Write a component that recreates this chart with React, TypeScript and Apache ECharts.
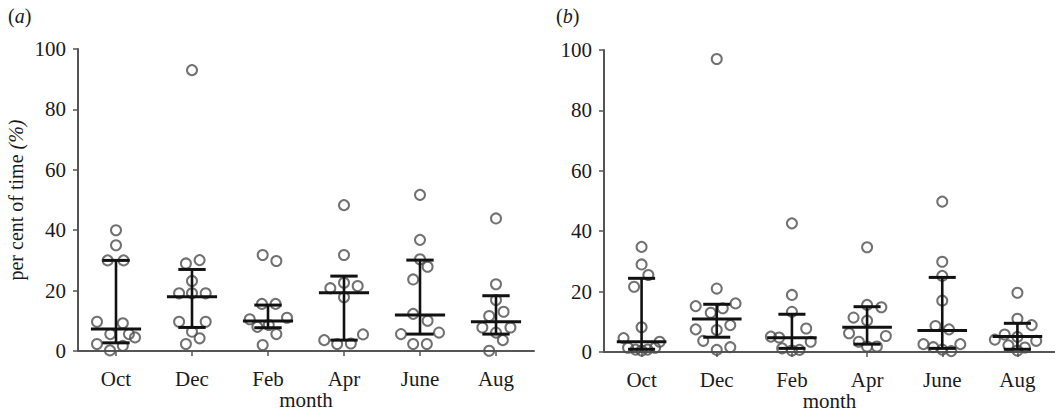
import React, { useEffect, useRef } from "react";
import * as echarts from "echarts";

const months = ["Oct", "Dec", "Feb", "Apr", "June", "Aug"];

// Panel (a) values (per cent of time) and horizontal jitter (in category units)
const aOct = [40, 35, 30, 30, 9.7, 9.2, 5.6, 5.6, 4.5, 2.3, 1.7, 0.2];
const aOctX = [0, 0, -0.11, 0.1, -0.25, 0.09, -0.075, 0.17, 0.25, -0.25, 0.09, -0.08];
const aDec = [93, 30.1, 29.0, 23.2, 19.1, 19.1, 19.1, 9.7, 9.7, 6.4, 4.2, 2.3];
const aDecX = [0, 0.1, -0.08, 0, -0.17, 0, 0.18, -0.17, 0.18, 0, 0.1, -0.08];
const aFeb = [31.8, 29.8, 15.6, 15.6, 11.0, 10.5, 8.6, 8.0, 5.6, 2.0];
const aFebX = [-0.07, 0.11, -0.08, 0.1, 0.25, -0.24, 0.01, -0.14, 0.11, -0.07];
const aApr = [48.3, 31.8, 22.6, 21.5, 20.8, 17.8, 5.5, 3.6, 2.5, 2.3];
const aAprX = [0, 0, 0, 0.18, -0.18, 0, 0.25, -0.26, 0.09, -0.09];
const aJune = [51.7, 36.8, 30.4, 27.9, 23.7, 12.3, 10.0, 6.1, 5.6, 2.3, 2.3];
const aJuneX = [0, 0, 0, 0.1, -0.09, -0.09, 0.1, 0.25, -0.25, -0.09, 0.09];
const aAug = [43.9, 22.1, 16.9, 13.0, 11.6, 7.8, 7.8, 6.1, 3.6, 0.1];
const aAugX = [0, 0, 0, 0.1, -0.09, -0.18, 0.19, 0, 0.09, -0.09];

// Panel (b)
const bOct = [34.8, 29.0, 25.5, 21.6, 8.2, 4.6, 3.4, 1.4, 0.8, 0.5, 0.8, 1.4];
const bOctX = [0, 0, 0.09, -0.1, 0, -0.24, 0.24, -0.18, -0.08, 0, 0.08, 0.18];
const bDec = [97, 21, 16.1, 15.2, 14.5, 13.0, 8.9, 7.5, 7.3, 3.7, 1.6, 0.7];
const bDecX = [0, 0, 0.25, -0.28, 0.08, -0.08, 0.18, -0.28, 0, -0.18, 0.18, 0];
const bFeb = [42.6, 18.9, 13.3, 7.8, 5.1, 4.8, 3.4, 1.2, 0.7, 0.5];
const bFebX = [0, 0, 0, 0.19, -0.28, -0.17, 0.25, -0.13, 0.1, 0];
const bApr = [34.7, 15.6, 14.8, 11.4, 10.4, 6.2, 5.3, 3.4, 1.8, 1.8];
const bAprX = [0, 0, 0.19, -0.18, 0, -0.24, 0.25, -0.11, 0, 0.13];
const bJune = [49.8, 29.9, 25.2, 17.0, 8.6, 7.5, 2.6, 2.6, 1.6, 0.8, 0.3];
const bJuneX = [0, 0, 0, 0, -0.09, 0.09, -0.25, 0.24, -0.12, 0, 0.12];
const bAug = [19.6, 11.0, 8.9, 5.8, 5.0, 4.1, 3.7, 2.2, 1.5, 0.5];
const bAugX = [0, 0, 0.19, -0.17, 0, -0.3, 0.25, -0.12, 0.1, 0];

// Median and interquartile range
const aMedian = [7.3, 18.0, 9.9, 19.3, 11.9, 9.7];
const aQ1 = [2.7, 7.8, 7.7, 3.6, 5.6, 5.6];
const aQ3 = [30, 27, 15.2, 24.8, 30.1, 18.3];
const bMedian = [3.4, 10.9, 4.7, 8.2, 7.1, 5.1];
const bQ1 = [0.9, 4.9, 1.2, 2.6, 1.2, 0.9];
const bQ3 = [24.4, 15.8, 12.5, 15.0, 24.7, 9.5];

const FONT = "'Liberation Serif', 'Times New Roman', serif";
const AXIS_COLOR = "#555";
const TEXT_COLOR = "#1a1a1a";

function buildPoints(vals: number[][], jit: number[][]) {
  const out: number[][] = [];
  vals.forEach((arr, i) => {
    arr.forEach((v, k) => out.push([i + jit[i][k], v]));
  });
  return out;
}

function statData(med: number[], q1: number[], q3: number[]) {
  return med.map((m, i) => [i, m, q1[i], q3[i]]);
}

const renderBar = (params: any, api: any) => {
  const i = api.value(0);
  const pm = api.coord([i, api.value(1)]);
  const plo = api.coord([i, api.value(2)]);
  const phi = api.coord([i, api.value(3)]);
  const bw = api.size([1, 0])[0];
  const st = { stroke: "#111", lineWidth: 2.6 };
  const capW = 0.18 * bw;
  const medW = 0.33 * bw;
  return {
    type: "group",
    children: [
      { type: "line", shape: { x1: pm[0], y1: plo[1], x2: pm[0], y2: phi[1] }, style: st },
      { type: "line", shape: { x1: pm[0] - medW, y1: pm[1], x2: pm[0] + medW, y2: pm[1] }, style: { stroke: "#111", lineWidth: 3 } },
      { type: "line", shape: { x1: pm[0] - capW, y1: plo[1], x2: pm[0] + capW, y2: plo[1] }, style: { stroke: "#111", lineWidth: 3 } },
      { type: "line", shape: { x1: pm[0] - capW, y1: phi[1], x2: pm[0] + capW, y2: phi[1] }, style: { stroke: "#111", lineWidth: 3 } },
    ],
  };
};

function catAxis(gridIndex: number) {
  return {
    type: "category",
    gridIndex,
    data: months,
    boundaryGap: true,
    name: "month",
    nameLocation: "middle",
    nameGap: 38,
    nameMoveOverlap: false,
    nameTextStyle: { fontFamily: FONT, fontSize: 21, color: TEXT_COLOR, lineHeight: 21 },
    axisLine: { show: true, onZero: false, lineStyle: { color: AXIS_COLOR, width: 2 } },
    axisTick: { show: true, alignWithLabel: true, length: 5, lineStyle: { color: AXIS_COLOR, width: 1.5 } },
    axisLabel: { fontFamily: FONT, fontSize: 21, color: TEXT_COLOR, margin: 17 },
    splitLine: { show: false },
  };
}

function valXAxis(gridIndex: number) {
  return {
    type: "value",
    gridIndex,
    min: -0.5,
    max: 5.5,
    show: false,
    axisLine: { show: false, onZero: false },
    splitLine: { show: false },
  };
}

function yAxis(gridIndex: number, withName: boolean) {
  return {
    type: "value",
    gridIndex,
    min: 0,
    max: 100,
    interval: 20,
    name: withName ? "{n|per cent of time }{i|(%)}" : "",
    nameLocation: "middle",
    nameGap: 52,
    nameMoveOverlap: false,
    nameTextStyle: {
      fontFamily: FONT,
      fontSize: 20,
      color: TEXT_COLOR,
      rich: {
        n: { fontFamily: FONT, fontSize: 20, color: TEXT_COLOR },
        i: { fontFamily: FONT, fontSize: 20, color: TEXT_COLOR, fontStyle: "italic" },
      },
    },
    axisLine: { show: true, onZero: false, lineStyle: { color: AXIS_COLOR, width: 2 } },
    axisTick: { show: true, length: 5, lineStyle: { color: AXIS_COLOR, width: 1.5 } },
    axisLabel: { fontFamily: FONT, fontSize: 21, color: TEXT_COLOR, margin: 12 },
    splitLine: { show: false },
  };
}

const scatterStyle = {
  symbol: "circle",
  symbolSize: 10,
  itemStyle: { color: "rgba(255,255,255,0)", borderColor: "#4d4d4d", borderWidth: 2 },
};

export default function App() {
  const ref = useRef<HTMLDivElement>(null);
  useEffect(() => {
    if (!ref.current) return;
    const chart = echarts.init(ref.current, undefined, { renderer: "svg" });
    const aPts = buildPoints([aOct, aDec, aFeb, aApr, aJune, aAug], [aOctX, aDecX, aFebX, aAprX, aJuneX, aAugX]);
    const bPts = buildPoints([bOct, bDec, bFeb, bApr, bJune, bAug], [bOctX, bDecX, bFebX, bAprX, bJuneX, bAugX]);
    const panelLabel = (x: number, letter: string) => ({
      type: "text",
      left: x,
      top: 6,
      style: {
        text: "{p|(}{i|" + letter + "}{p|)}",
        rich: {
          p: { fontFamily: FONT, fontSize: 20, fill: TEXT_COLOR },
          i: { fontFamily: FONT, fontSize: 20, fill: TEXT_COLOR, fontStyle: "italic" },
        },
      },
    });
    chart.setOption({
      animation: false,
      backgroundColor: "#fff",
      grid: [
        { left: 78, top: 49, width: 456, height: 302, containLabel: false, outerBoundsMode: "none" },
        { left: 604, top: 50, width: 451, height: 302, containLabel: false, outerBoundsMode: "none" },
      ],
      xAxis: [catAxis(0), valXAxis(0), catAxis(1), valXAxis(1)],
      yAxis: [yAxis(0, true), yAxis(1, false)],
      graphic: [panelLabel(8, "a"), panelLabel(556, "b")],
      series: [
        { type: "scatter", xAxisIndex: 1, yAxisIndex: 0, data: aPts, z: 2, ...scatterStyle },
        { type: "scatter", xAxisIndex: 3, yAxisIndex: 1, data: bPts, z: 2, ...scatterStyle },
        { type: "custom", xAxisIndex: 1, yAxisIndex: 0, data: statData(aMedian, aQ1, aQ3), renderItem: renderBar, z: 5 },
        { type: "custom", xAxisIndex: 3, yAxisIndex: 1, data: statData(bMedian, bQ1, bQ3), renderItem: renderBar, z: 5 },
      ],
    });
    return () => chart.dispose();
  }, []);
  return (
    <div
      ref={ref}
      style={{ position: "fixed", left: 0, top: 0, width: 1055, height: 414, background: "#fff" }}
    />
  );
}
